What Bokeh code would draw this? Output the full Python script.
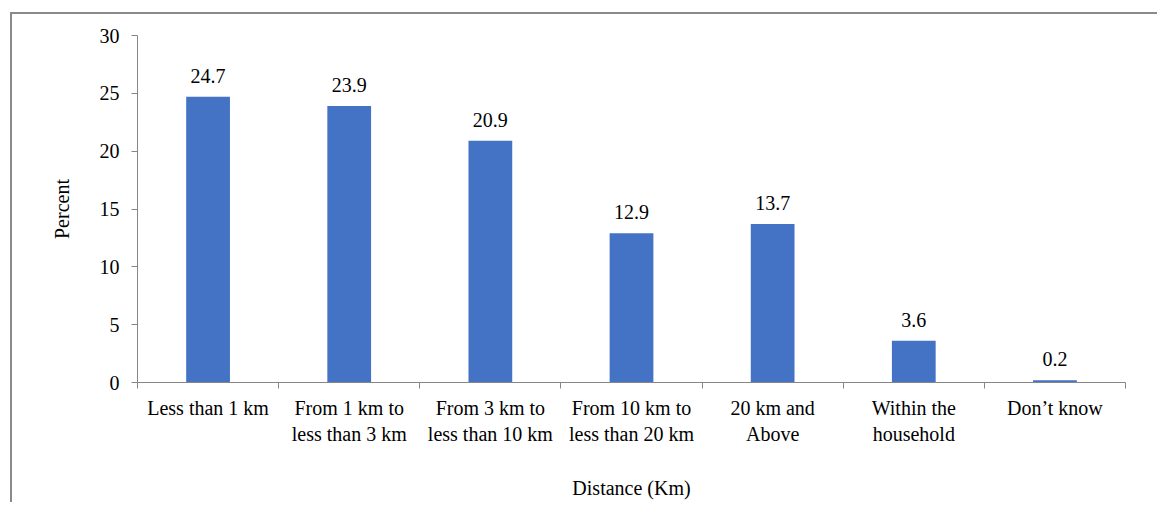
from bokeh.plotting import figure
from bokeh.models import FixedTicker, ColumnDataSource, Range1d
from bokeh.core.properties import value
from bokeh.embed import file_html
from bokeh.resources import INLINE

categories = ["Less than 1 km", "From 1 km to\nless than 3 km", "From 3 km to\nless than 10 km",
              "From 10 km to\nless than 20 km", "20 km and\nAbove", "Within the\nhousehold", "Don\u2019t know"]
percent = [24.7, 23.9, 20.9, 12.9, 13.7, 3.6, 0.2]
y_ticks = [0, 5, 10, 15, 20, 25, 30]

n = len(categories)
centers = [i + 0.5 for i in range(n)]
src = ColumnDataSource(dict(x=centers, top=percent, lbl=[f"{v:.1f}" for v in percent]))

FONT = "Liberation Serif"
GRAY = "#868686"
FS = "20px"

p = figure(width=1147, height=490, output_backend="svg", toolbar_location=None,
           x_range=Range1d(0, n), y_range=Range1d(0, 30),
           min_border_left=125, min_border_top=21, min_border_right=34, min_border_bottom=122,
           margin=(12, 0, 0, 10))
p.styles = {"border-top": "2px solid #8a8a8a", "border-left": "2px solid #8a8a8a"}
p.outline_line_color = None
p.xgrid.visible = False
p.ygrid.visible = False

p.vbar(x="x", top="top", width=0.31, source=src, fill_color="#4472C4", line_color=None)
p.text(x="x", y="top", text="lbl", source=src, y_offset=-14, text_align="center",
       text_baseline="bottom", text_font=value(FONT), text_font_size=FS, text_color="#000000")

xa = p.xaxis[0]
xa.ticker = FixedTicker(ticks=centers, minor_ticks=list(range(n + 1)))
xa.major_label_overrides = {c: lab for c, lab in zip(centers, categories)}
xa.major_tick_out = 0
xa.major_tick_in = 0
xa.minor_tick_out = 6
xa.minor_tick_in = 0
xa.minor_tick_line_color = GRAY
xa.axis_line_color = GRAY
xa.major_label_standoff = 8
xa.major_label_text_font = FONT
xa.major_label_text_font_size = FS
xa.major_label_text_color = "#000000"
xa.axis_label = "Distance (Km)"
xa.axis_label_text_font = FONT
xa.axis_label_text_font_size = FS
xa.axis_label_text_font_style = "normal"
xa.axis_label_text_color = "#000000"
xa.axis_label_standoff = 29

ya = p.yaxis[0]
ya.ticker = FixedTicker(ticks=y_ticks, minor_ticks=[])
ya.major_tick_out = 6
ya.major_tick_in = 0
ya.major_tick_line_color = GRAY
ya.axis_line_color = GRAY
ya.major_label_standoff = 12
ya.major_label_text_font = FONT
ya.major_label_text_font_size = FS
ya.major_label_text_color = "#000000"
ya.axis_label = "Percent"
ya.axis_label_text_font = FONT
ya.axis_label_text_font_size = FS
ya.axis_label_text_font_style = "normal"
ya.axis_label_text_color = "#000000"
ya.axis_label_standoff = 24

open("out.html", "w").write(file_html(p, INLINE))
